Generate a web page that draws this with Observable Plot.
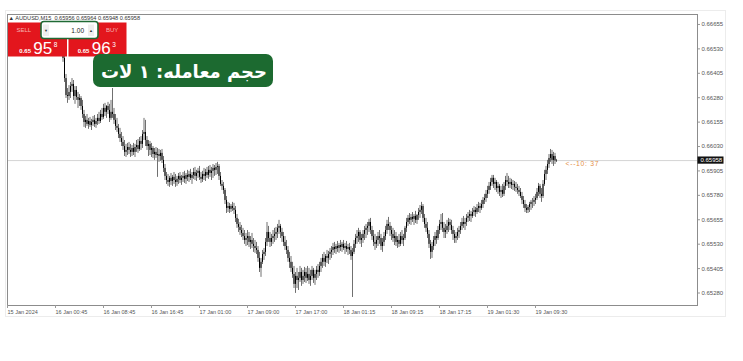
<!DOCTYPE html>
<html><head><meta charset="utf-8">
<script src="https://cdn.jsdelivr.net/npm/d3@7"></script>
<script src="https://cdn.jsdelivr.net/npm/@observablehq/plot@0.6"></script>
<style>
html,body{margin:0;padding:0;background:#fff;}
#wrap{position:relative;width:743px;height:361px;overflow:hidden;}
</style></head>
<body><div id="wrap"></div>
<script>
// AUDUSD M15 — prices in points (price × 100000); bar index of the first listed bar
const firstIndex = 34;
const firstOpen = 66540;
const high = [
66563,66573,66583,66542,66491,66399,66327,66342,66358,66378,
66368,66337,66337,66307,66296,66286,66266,66215,66184,66194,
66174,66179,66169,66184,66189,66174,66194,66205,66215,66225,
66246,66251,66240,66256,66246,66266,66327,66225,66194,66174,
66143,66123,66102,66081,66061,66041,66046,66051,66041,66035,
66046,66041,66061,66066,66076,66081,66112,66174,66164,66081,
66061,66056,66046,66030,66020,66025,66020,66015,66010,66015,
65979,65938,65897,65887,65877,65892,65882,65897,65887,65877,
65892,65897,65882,65897,65903,65892,65908,65903,65913,65897,
65918,65923,65908,65918,65928,65897,65903,65918,65913,65923,
65928,65933,65923,65938,65933,65943,65949,65938,65897,65856,
65846,65815,65774,65744,65739,65733,65744,65739,65723,65682,
65657,65641,65626,65611,65600,65585,65600,65590,65569,65585,
65559,65549,65539,65518,65488,65457,65498,65508,65559,65641,
65621,65590,65580,65600,65611,65616,65631,65652,65631,65611,
65590,65569,65549,65518,65488,65467,65437,65416,65385,65406,
65385,65416,65406,65396,65411,65406,65416,65406,65396,65416,
65406,65396,65416,65426,65437,65457,65477,65488,65477,65498,
65493,65508,65518,65534,65539,65529,65544,65534,65549,65539,
65549,65534,65544,65529,65534,65518,65508,65549,65580,65600,
65611,65600,65580,65600,65621,65631,65641,65657,65662,65621,
65600,65580,65569,65590,65600,65580,65559,65590,65621,65652,
65667,65641,65621,65611,65600,65590,65569,65580,65590,65600,
65580,65621,65662,65677,65687,65682,65692,65682,65698,65682,
65713,65728,65744,65733,65682,65662,65641,65600,65549,65539,
65569,65590,65600,65621,65652,65682,65687,65641,65631,65652,
65662,65657,65652,65621,65600,65590,65611,65621,65641,65662,
65672,65662,65682,65692,65703,65698,65713,65723,65718,65733,
65744,65739,65754,65769,65785,65805,65826,65846,65867,65882,
65882,65867,65856,65846,65836,65826,65836,65846,65877,65892,
65877,65867,65862,65856,65851,65846,65836,65826,65815,65795,
65774,65754,65733,65728,65744,65754,65764,65774,65785,65815,
65841,65836,65815,65856,65908,65928,65959,65989,66015,66010,
66000,65995,65964];
const low = [
66512,66522,66512,66461,66358,66276,66251,66266,66276,66307,
66266,66246,66266,66225,66235,66215,66174,66128,66123,66133,
66118,66128,66112,66133,66128,66123,66138,66143,66148,66164,
66169,66184,66174,66194,66153,66164,66174,66143,66112,66102,
66071,66051,66030,66010,65979,65974,65984,65989,65974,65979,
65984,65974,66000,65995,66005,66010,66020,66061,66030,66010,
65979,65984,65974,65969,65959,65969,65872,65949,65954,65943,
65897,65856,65836,65826,65821,65831,65826,65836,65821,65826,
65836,65841,65831,65846,65841,65836,65851,65846,65856,65836,
65862,65856,65851,65867,65856,65841,65846,65856,65851,65867,
65862,65872,65856,65867,65877,65882,65887,65856,65826,65805,
65785,65733,65687,65692,65687,65692,65698,65682,65641,65611,
65590,65575,65564,65549,65529,65518,65523,65513,65503,65508,
65488,65483,65477,65437,65385,65360,65426,65447,65467,65518,
65539,65513,65518,65529,65539,65549,65559,65580,65559,65539,
65518,65498,65477,65437,65406,65385,65355,65303,65278,65303,
65293,65334,65314,65324,65334,65329,65339,65324,65314,65344,
65329,65319,65344,65355,65365,65385,65406,65416,65411,65431,
65426,65447,65457,65472,65483,65477,65488,65483,65493,65488,
65498,65477,65488,65472,65477,65447,65257,65477,65508,65529,
65539,65529,65513,65534,65549,65559,65575,65590,65580,65549,
65518,65498,65508,65518,65529,65498,65488,65518,65549,65580,
65600,65569,65549,65539,65523,65518,65508,65513,65518,65529,
65518,65549,65590,65621,65631,65626,65641,65626,65636,65631,
65652,65662,65682,65641,65611,65590,65559,65508,65452,65457,
65498,65518,65529,65549,65580,65600,65590,65559,65559,65580,
65590,65600,65580,65549,65534,65534,65549,65559,65580,65600,
65611,65600,65621,65641,65646,65641,65662,65672,65667,65682,
65692,65687,65703,65713,65733,65744,65764,65785,65805,65826,
65815,65805,65795,65785,65774,65764,65769,65774,65805,65826,
65815,65815,65810,65805,65800,65795,65785,65774,65764,65733,
65713,65692,65687,65687,65692,65703,65713,65723,65733,65754,
65774,65764,65744,65764,65826,65856,65887,65918,65949,65938,
65928,65938,65948];
const close = [
66532,66553,66522,66481,66378,66291,66286,66307,66337,66348,
66286,66317,66281,66266,66276,66235,66194,66153,66164,66143,
66158,66138,66153,66164,66143,66158,66174,66158,66194,66179,
66225,66205,66235,66215,66174,66205,66194,66164,66133,66123,
66092,66071,66051,66030,66000,66010,66025,66010,66000,66020,
66000,66025,66035,66015,66056,66041,66092,66102,66061,66030,
66041,66010,66020,65989,66000,65984,65989,65979,65995,65959,
65918,65877,65856,65846,65867,65851,65872,65856,65846,65862,
65877,65856,65867,65877,65862,65882,65872,65887,65867,65882,
65897,65877,65892,65903,65872,65862,65887,65877,65897,65882,
65908,65892,65903,65918,65908,65923,65928,65877,65836,65826,
65805,65754,65713,65723,65708,65723,65713,65703,65662,65631,
65616,65600,65585,65569,65549,65559,65569,65539,65549,65529,
65518,65508,65498,65457,65406,65437,65477,65488,65539,65590,
65559,65539,65559,65569,65580,65590,65611,65621,65590,65569,
65539,65518,65498,65457,65437,65406,65375,65324,65365,65344,
65355,65385,65344,65365,65385,65355,65375,65344,65365,65396,
65355,65375,65396,65385,65416,65437,65457,65437,65467,65457,
65477,65488,65498,65513,65503,65518,65508,65523,65513,65529,
65508,65518,65503,65513,65498,65467,65488,65529,65559,65569,
65590,65549,65559,65580,65600,65611,65621,65641,65600,65569,
65539,65529,65549,65569,65559,65518,65539,65569,65600,65631,
65621,65600,65580,65559,65569,65539,65549,65529,65569,65549,
65559,65611,65641,65662,65652,65667,65657,65672,65652,65677,
65692,65703,65723,65662,65631,65611,65580,65529,65488,65518,
65549,65569,65559,65600,65631,65641,65611,65590,65600,65621,
65641,65626,65600,65580,65559,65569,65590,65600,65621,65641,
65631,65641,65662,65672,65682,65672,65692,65703,65692,65713,
65723,65713,65733,65754,65764,65785,65805,65826,65846,65867,
65836,65846,65815,65826,65795,65805,65785,65826,65856,65846,
65836,65846,65831,65836,65821,65815,65805,65795,65774,65754,
65733,65713,65703,65718,65733,65744,65744,65754,65764,65795,
65826,65785,65774,65836,65887,65908,65938,65969,65989,65959,
65979,65956,65958];

const titleText = "▲ AUDUSD,M15  0.65956 0.65964 0.65948 0.65958";
const lastPrice = 65958;
const slotCount = 460;                       // visible bar slots across the chart
const yDomain = [65216, 66706];
const yTicks = [66655,66530,66405,66280,66155,66030,65905,65780,65655,65530,65405,65280];
const xTickIndex = [0,32,64,96,128,160,192,224,256,288,320,352];
const xTickLabels = ["15 Jan 2024","16 Jan 00:45","16 Jan 08:45","16 Jan 16:45","17 Jan 01:00","17 Jan 09:00","17 Jan 17:00","18 Jan 01:15","18 Jan 09:15","18 Jan 17:15","19 Jan 01:30","19 Jan 09:30"];
const countdown = "<--10: 37";
const lotLabel = "حجم معامله: ۱ لات";
const lotValue = "1.00";
const sellBig = "95", sellSup = "8", buyBig = "96", buySup = "3", pricePrefix = "0.65";

const FONT = "'Liberation Sans', Arial, sans-serif";
const bars = close.map((c, k) => {
  const o = k === 0 ? firstOpen : close[k - 1];
  return {i: firstIndex + k, open: o, close: c,
          high: Math.max(high[k], o, c), low: Math.min(low[k], o, c)};
});
const lastBar = bars[bars.length - 1];

const chart = Plot.plot({
  width: 743, height: 361,
  marginLeft: 7, marginRight: 46, marginTop: 14, marginBottom: 56,
  x: {domain: [0, slotCount], axis: null, label: null},
  y: {domain: yDomain, axis: null, label: null},
  style: {fontFamily: FONT, background: "#fff", overflow: "visible"},
  marks: [
    Plot.ruleY([lastPrice], {stroke: "#d4d4d4", strokeWidth: 1}),
    Plot.ruleX(bars, {x: "i", y1: "low", y2: "high", stroke: "#707070", strokeWidth: 1}),
    Plot.ruleX(bars, {x: "i", y1: "open", y2: "close", stroke: "#000", strokeWidth: 1}),
    Plot.frame({stroke: "#8c8c8c"}),
    Plot.axisY(yTicks, {anchor: "right", label: null, tickSize: 2, tickPadding: 2, stroke: "#999",
      tickFormat: d => (d / 100000).toFixed(5), fontSize: 6, fill: "#555"}),
    Plot.axisX(xTickIndex, {anchor: "bottom", label: null, tickSize: 3, tickPadding: 2, stroke: "#999",
      tickFormat: (d, k) => xTickLabels[k], textAnchor: "start", dx: 0, fontSize: 5.5, fill: "#555"}),
    Plot.text([countdown], {x: [lastBar.i], y: [lastPrice], text: d => d, textAnchor: "start",
      dx: 9, dy: 3, fill: "#e58f48", fontSize: 6.8, fontFamily: FONT})
  ]
});

document.getElementById("wrap").appendChild(chart);

const svg = d3.select(chart);
svg.selectAll("text").filter(function(){ return d3.select(this).text().startsWith("<--"); })
  .attr("letter-spacing", 0.7).attr("xml:space", "preserve");

// faint window outline
svg.insert("rect", ":first-child").attr("x", 5.5).attr("y", 10.5).attr("width", 720).attr("height", 306)
  .attr("fill", "none").attr("stroke", "#ececec");

const yS = chart.scale("y");
const yp = yS.apply(lastPrice);
// current price label on the price axis
svg.append("rect").attr("x", 697.5).attr("y", yp - 3.6).attr("width", 26).attr("height", 7.2).attr("fill", "#111");
svg.append("text").attr("x", 700.5).attr("y", yp + 2).attr("text-anchor", "start").attr("fill", "#fff").attr("font-size", 6)
  .attr("font-family", FONT).text((lastPrice / 100000).toFixed(5));

// title
svg.append("text").attr("x", 8.5).attr("y", 19.6).attr("text-anchor", "start").attr("font-size", 5.6).attr("fill", "#333")
  .attr("font-family", FONT).attr("xml:space", "preserve").text(titleText);

// one-click trading panel
const g = svg.append("g").attr("font-family", FONT).attr("text-anchor", "start");
g.append("rect").attr("x", 8).attr("y", 22.5).attr("width", 59).attr("height", 34).attr("fill", "#e3161d");
g.append("rect").attr("x", 68.5).attr("y", 22.5).attr("width", 58).attr("height", 34).attr("fill", "#e3161d");
g.append("text").attr("x", 16.5).attr("y", 31.5).attr("font-size", 6).attr("fill", "#f5b3b3").text("SELL");
g.append("text").attr("x", 106).attr("y", 31.5).attr("font-size", 6).attr("fill", "#f5b3b3").text("BUY");
g.append("rect").attr("x", 41).attr("y", 21.5).attr("width", 57).attr("height", 17).attr("rx", 3)
  .attr("fill", "#fff").attr("stroke", "#1f6a34").attr("stroke-width", 1.6);
g.append("rect").attr("x", 43).attr("y", 24.5).attr("width", 6).attr("height", 11.5).attr("fill", "#eee");
g.append("rect").attr("x", 88).attr("y", 24.5).attr("width", 6).attr("height", 11.5).attr("fill", "#eee");
g.append("text").attr("x", 46).attr("y", 32).attr("font-size", 4).attr("text-anchor", "middle").attr("fill", "#333").text("▼");
g.append("text").attr("x", 91).attr("y", 32).attr("font-size", 4).attr("text-anchor", "middle").attr("fill", "#333").text("▲");
g.append("text").attr("x", 84).attr("y", 32.5).attr("font-size", 6.5).attr("text-anchor", "end").attr("fill", "#222").text(lotValue);
// prices
function priceBlock(x, big, sup) {
  g.append("text").attr("x", x).attr("y", 53).attr("font-size", 6).attr("font-weight", "bold").attr("fill", "#fff").text(pricePrefix);
  g.append("text").attr("x", x + 14).attr("y", 53.8).attr("font-size", 17).attr("fill", "#fff").text(big);
  g.append("text").attr("x", x + 34.5).attr("y", 47).attr("font-size", 6.5).attr("fill", "#fff").text(sup);
}
priceBlock(19.3, sellBig, sellSup);
priceBlock(77.7, buyBig, buySup);

// green annotation label
svg.append("rect").attr("x", 93).attr("y", 54).attr("width", 180).attr("height", 33).attr("rx", 7).attr("fill", "#1c6a30");
svg.append("text").attr("x", 184).attr("y", 77.5).attr("text-anchor", "middle").attr("font-size", 18)
  .attr("font-weight", "bold").attr("fill", "#fff").attr("font-family", "'DejaVu Sans', 'Noto Sans', sans-serif")
  .attr("direction", "rtl").text(lotLabel);
</script></body></html>
